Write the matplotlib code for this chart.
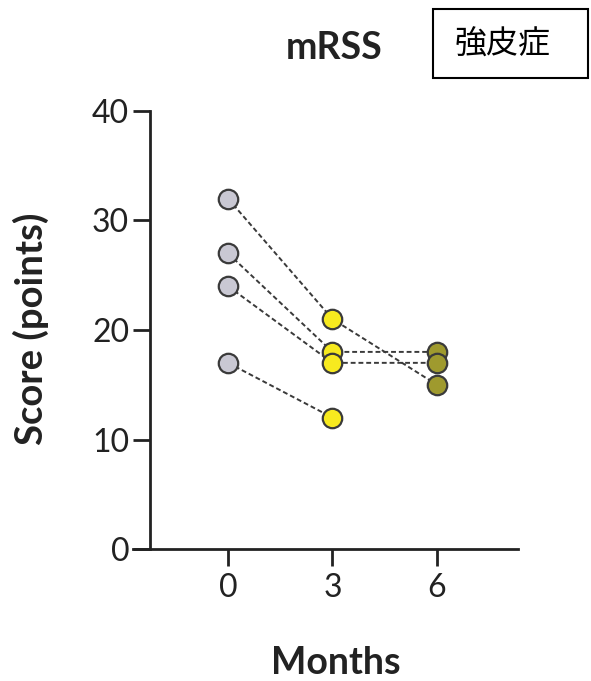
import matplotlib
matplotlib.use('Agg')
import matplotlib.pyplot as plt
from matplotlib.patches import Rectangle

# data
months = [0, 3, 6]
patient_scores = [
    [32, 21, 15],
    [27, 18, 18],
    [24, 17, 17],
    [17, 12, None],
]
point_colors = ['#c9c8d3', '#f7ea1f', '#9f9a2e']
y_ticks = [0, 10, 20, 30, 40]

plt.rcParams['font.family'] = ['Lato', 'DejaVu Sans']

fig = plt.figure(figsize=(5.91, 6.81), dpi=100)
ax = fig.add_axes([133 / 591, 1 - 549 / 681, (518 - 133) / 591, (549 - 111) / 681])

# dashed connections first, then markers on top
for scores in patient_scores:
    xs = [m for m, s in zip(months, scores) if s is not None]
    ys = [s for s in scores if s is not None]
    ax.plot(xs, ys, linestyle=(0, (2.5, 1.5)), color='#3a3a3a', lw=1.4, zorder=2)

for scores in patient_scores:
    for m, s, c in zip(months, scores, point_colors):
        if s is None:
            continue
        ax.plot(m, s, 'o', ms=14, mfc=c, mec='#3a3a3a', mew=1.6, zorder=3)

ax.set_xlim(-2.73, 8.33)
ax.set_ylim(0, 40)
ax.set_xticks(months)
ax.set_yticks(y_ticks)
ax.spines['top'].set_visible(False)
ax.spines['right'].set_visible(False)
ax.spines['left'].set_position(('data', -2.24))
for sp in ('left', 'bottom'):
    ax.spines[sp].set_linewidth(2)
    ax.spines[sp].set_color('#222222')
ax.tick_params(axis='both', length=12, width=2, color='#222222',
               labelsize=23, labelcolor='#222222', pad=5)
ax.tick_params(axis='y', pad=3)

fig.text(31 / 591, 1 - 329 / 681, 'Score (points)', rotation=90, fontsize=27.5,
         fontweight='bold', color='#222222', ha='center', va='center')
fig.text(336 / 591, 1 - 663 / 681, 'Months', fontsize=27, fontweight='bold',
         color='#222222', ha='center', va='center')
fig.text(334 / 591, 1 - 48 / 681, 'mRSS', fontsize=27, fontweight='bold',
         color='#222222', ha='center', va='center')

# label box at the top right
fig.patches.append(Rectangle((433 / 591, 1 - 78 / 681), 155 / 591, 69 / 681,
                             transform=fig.transFigure, fill=False,
                             edgecolor='black', lw=1.5))
fig.text(503 / 591, 1 - 45 / 681, '強皮症', fontsize=23, color='black',
         ha='center', va='center', family=['Noto Sans CJK JP', 'DejaVu Sans'])

fig.savefig('out.png', dpi=100)
